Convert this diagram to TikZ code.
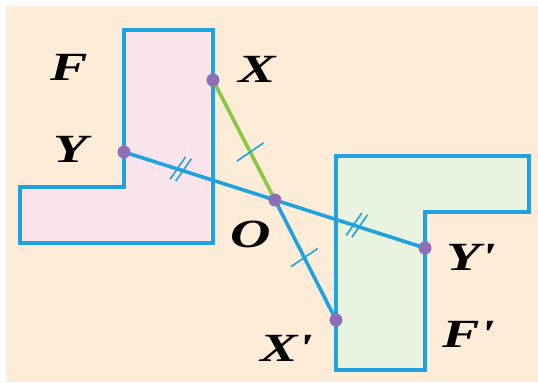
\documentclass[tikz,border=0pt]{standalone}
\usepackage{fontspec}
\setmainfont{Liberation Serif}
\usetikzlibrary{decorations.markings}

\definecolor{peach}{RGB}{253,236,216}
\definecolor{figblue}{RGB}{32,162,222}
\definecolor{seggreen}{RGB}{140,198,70}
\definecolor{dotpurple}{RGB}{142,110,182}
\definecolor{pinkfill}{RGB}{250,228,236}
\definecolor{greenfill}{RGB}{232,243,224}

\begin{document}
\begin{tikzpicture}[
    x=0.5pt, y=-0.5pt,
    outline/.style={draw=figblue, line width=2pt, line join=miter},
    segblue/.style={draw=figblue, line width=1.8pt},
    seggrn/.style={draw=seggreen, line width=1.8pt},
    dot/.style={circle, fill=dotpurple, inner sep=0pt, minimum size=6.5pt},
    lbl/.style={font=\fontsize{20}{20}\selectfont\bfseries\itshape, inner sep=0pt, anchor=base west, xscale=1.4, transform shape},
    onetick/.style={postaction={decorate, decoration={markings,
        mark=at position #1 with {\draw[figblue, line width=0.8pt] (-2,-16) -- (2,16);}}}},
    twotick/.style={postaction={decorate, decoration={markings,
        mark=at position #1 with {\draw[figblue, line width=0.8pt] (-8,12) -- (0,-14) (-2,12) -- (6,-14);}}}}
]
    % background
    \fill[white] (0,0) rectangle (538,382);
    \fill[peach] (6,6) rectangle (538,382);

    % figure F and its image F'
    \filldraw[outline, fill=pinkfill] (124,30) -- (213,30) -- (213,243) -- (20,243) -- (20,187) -- (124,187) -- cycle;
    \filldraw[outline, fill=greenfill] (336,156) -- (529,156) -- (529,212) -- (425,212) -- (425,370) -- (336,370) -- cycle;

    % points
    \coordinate (X) at (213,80);
    \coordinate (Y) at (124,152);
    \coordinate (O) at (275,200);
    \coordinate (Xp) at (336,320);
    \coordinate (Yp) at (425,248);

    % segments through O
    \draw[seggrn, onetick=0.6] (X) -- (O);
    \draw[segblue, onetick=0.48] (O) -- (Xp);
    \draw[segblue, twotick=0.38] (Y) -- (O);
    \draw[segblue, twotick=0.55] (O) -- (Yp);

    \node[dot] (dX) at (X) {};
    \node[dot] (dY) at (Y) {};
    \node[dot] (dO) at (O) {};
    \node[dot] (dXp) at (Xp) {};
    \node[dot] (dYp) at (Yp) {};

    % labels
    \node[lbl] (lF) at (50,80) {F};
    \node[lbl] (lX) at (238,82) {X};
    \node[lbl] (lY) at (53,162) {Y};
    \node[lbl] (lO) at (230,247) {O};
    \node[lbl] (lYp) at (446,270) {Y\textquotesingle};
    \node[lbl] (lXp) at (260,361) {X\textquotesingle};
    \node[lbl] (lFp) at (442,347) {F\textquotesingle};
\end{tikzpicture}
\end{document}
